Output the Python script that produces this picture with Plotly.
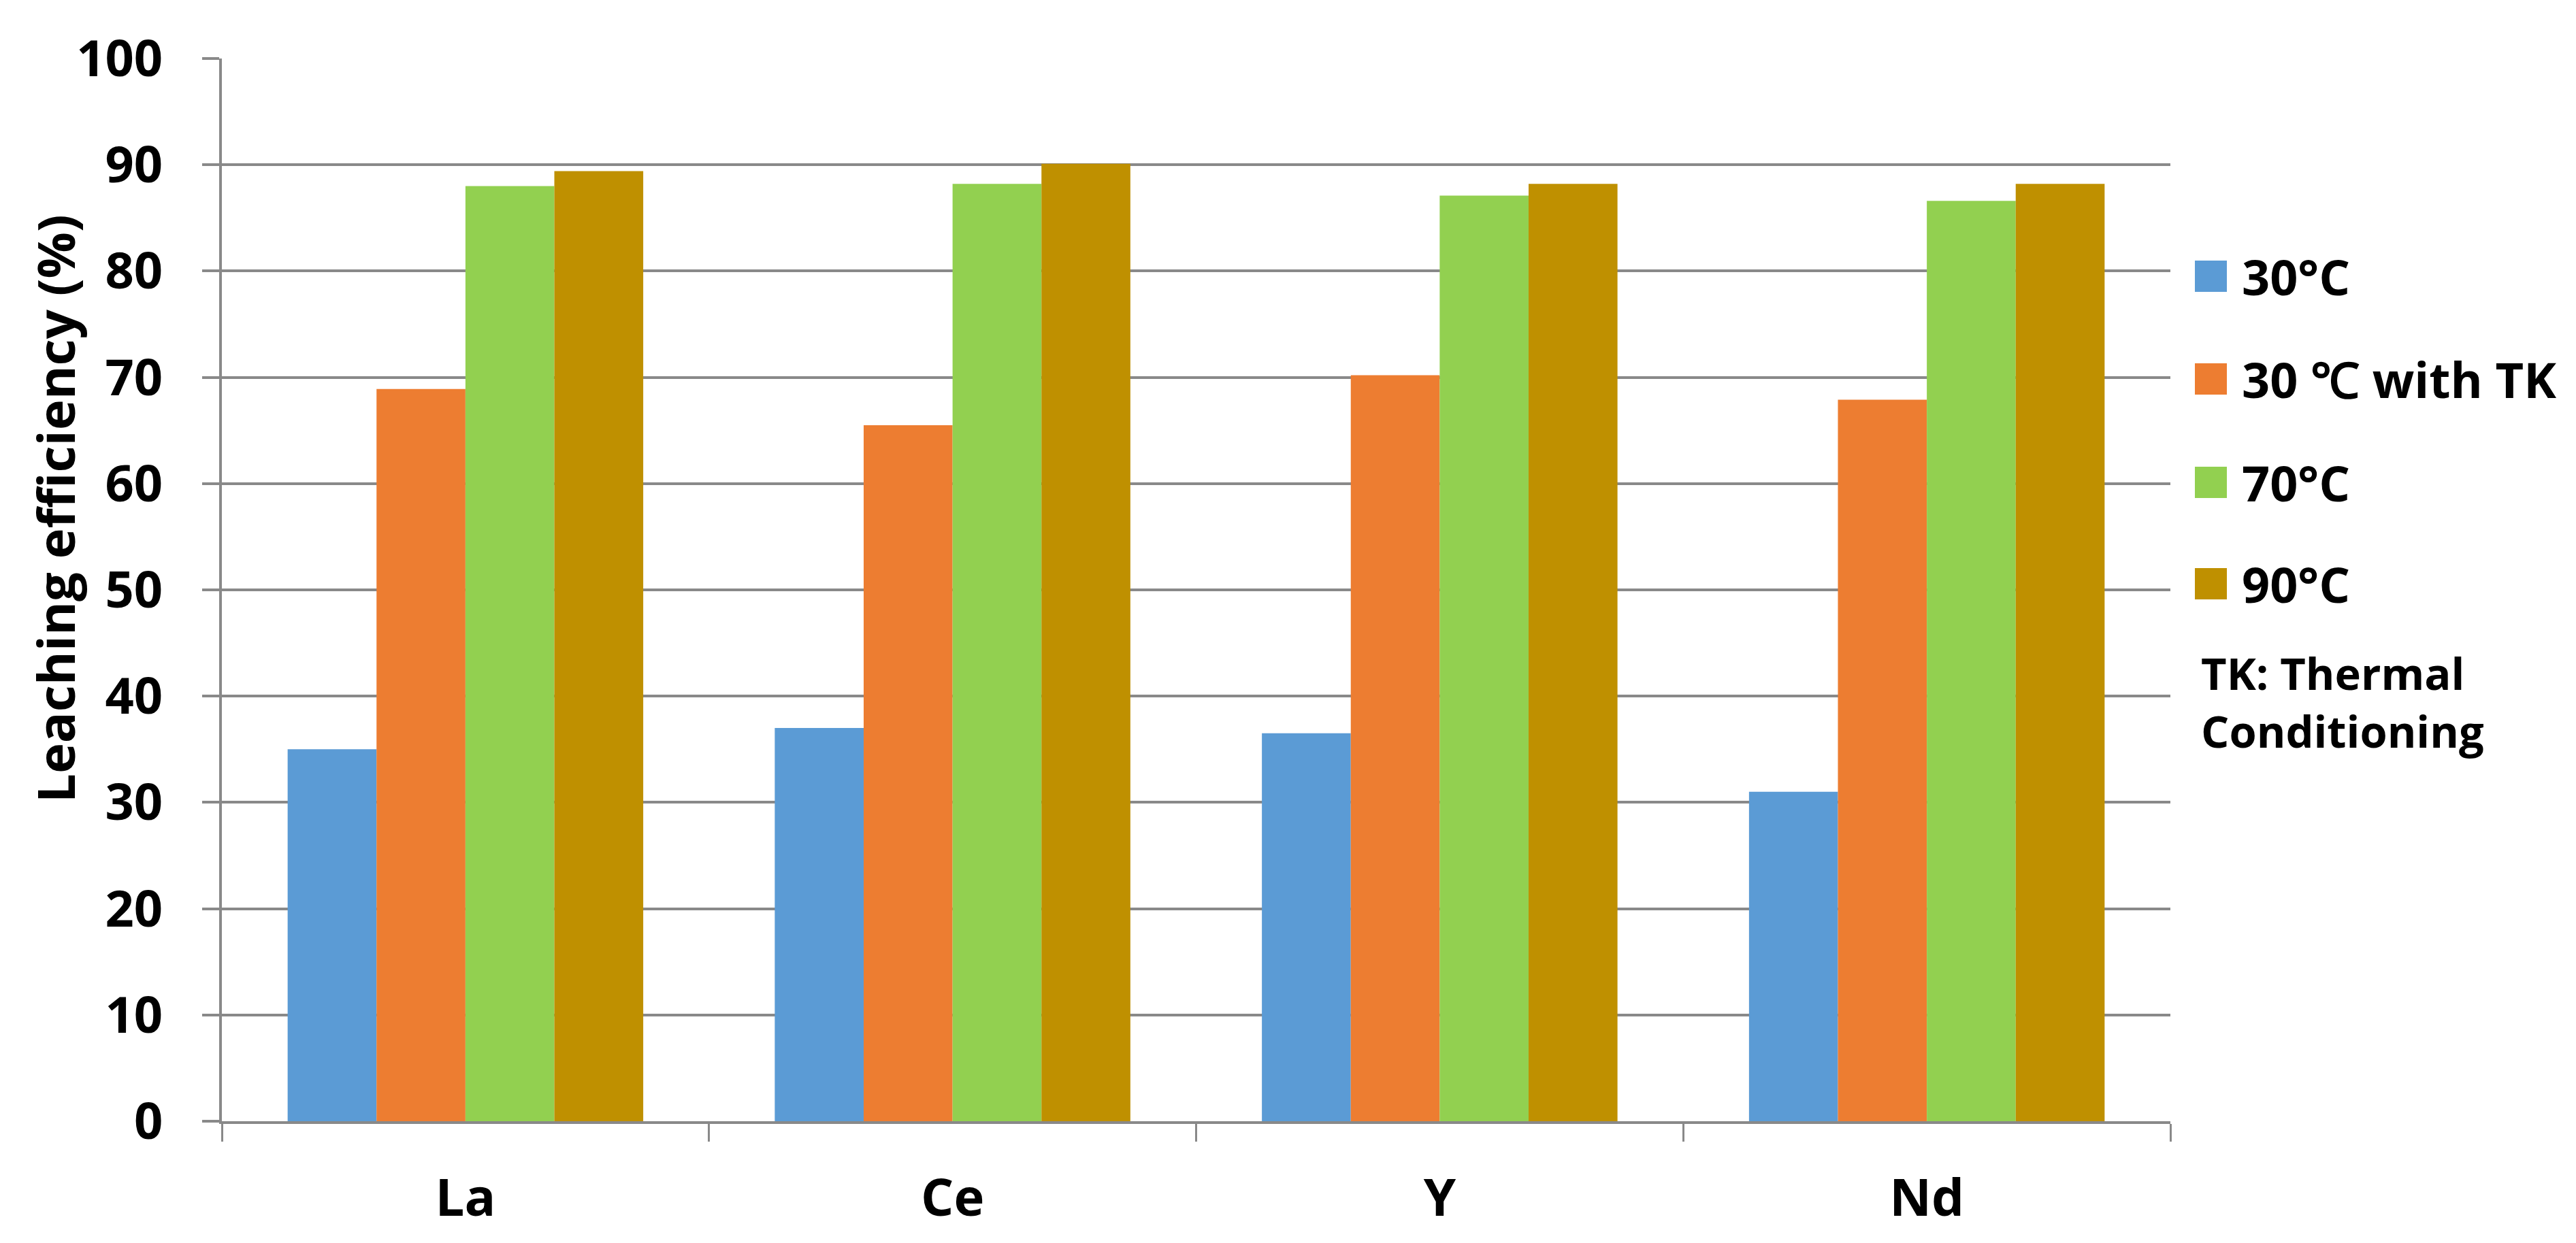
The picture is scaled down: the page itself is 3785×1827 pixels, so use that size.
import plotly.graph_objects as go

# ---- data ----
elements = ["La", "Ce", "Y", "Nd"]
series_names = ["30°C", "30 ℃ with TK", "70°C", "90°C"]
series_colors = ["#5B9BD5", "#ED7D31", "#92D050", "#BF9000"]
v_30 = [35.0, 37.0, 36.5, 31.0]
v_30tk = [68.9, 65.5, 70.2, 67.9]
v_70 = [88.0, 88.2, 87.1, 86.6]
v_90 = [89.4, 90.1, 88.2, 88.2]
y_ticks = list(range(0, 101, 10))
y_title = "Leaching efficiency (%)"
note_text = "TK: Thermal<br>Conditioning"

series_values = [v_30, v_30tk, v_70, v_90]

OFF = 8  # page body margin
W, H = 3785 - 2 * OFF, 1827 - 2 * OFF
L, T = 326 - OFF, 86 - OFF
PW, PH = 2863, 1562
R, B = W - L - PW, H - T - PH
FONT = "Open Sans"
GRID = "#898989"


def px(x):
    # x in page pixels -> paper coords
    return (x - OFF - L) / PW


def py(y):
    return (T + PH - (y - OFF)) / PH


fig = go.Figure()
for name, color, vals in zip(series_names, series_colors, series_values):
    fig.add_trace(go.Bar(x=elements, y=vals, name=name, marker=dict(color=color, line=dict(width=0)),
                         showlegend=False))

shapes = []
annotations = []
# custom legend (large square swatches like the original)
leg_y = [406, 557, 709, 858]
for name, color, yc in zip(series_names, series_colors, leg_y):
    shapes.append(dict(type="rect", xref="paper", yref="paper",
                       x0=px(3225), x1=px(3272), y0=py(yc + 23), y1=py(yc - 23),
                       fillcolor=color, line=dict(width=0)))
    annotations.append(dict(xref="paper", yref="paper", x=px(3292), y=py(yc), xanchor="left",
                            yanchor="middle", text=name, showarrow=False,
                            font=dict(family=FONT, size=72, color="black", weight="bold")))
annotations.append(dict(xref="paper", yref="paper", x=px(3232), y=py(1031), xanchor="left",
                        yanchor="middle", align="left", text=note_text, showarrow=False,
                        font=dict(family=FONT, size=65, color="black", weight="bold")))
annotations.append(dict(xref="paper", yref="paper", x=px(80), y=py(748), xanchor="center",
                        yanchor="middle", textangle=-90, text=y_title, showarrow=False,
                        font=dict(family=FONT, size=76, color="black", weight="bold")))

fig.update_layout(
    width=W, height=H, autosize=False,
    margin=dict(l=L, r=R, t=T, b=B, autoexpand=False),
    paper_bgcolor="white", plot_bgcolor="white",
    barmode="group", bargap=0.27, bargroupgap=0,
    shapes=shapes, annotations=annotations,
    xaxis=dict(type="category", tickson="boundaries", ticks="outside", ticklen=26, tickwidth=3,
               tickcolor=GRID, showline=True, linecolor=GRID, linewidth=4, showgrid=False,
               tickfont=dict(family=FONT, size=76, color="black", weight="bold"),
               ticklabelstandoff=44),
    yaxis=dict(range=[0, 100], tickvals=y_ticks, ticks="outside", ticklen=25, tickwidth=4,
               tickcolor=GRID, showline=True, linecolor=GRID, linewidth=4, showgrid=True,
               gridcolor=GRID, gridwidth=4, zeroline=False,
               tickfont=dict(family=FONT, size=74, color="black", weight="bold"),
               ticklabelstandoff=43),
)

fig.write_html("out.html")
